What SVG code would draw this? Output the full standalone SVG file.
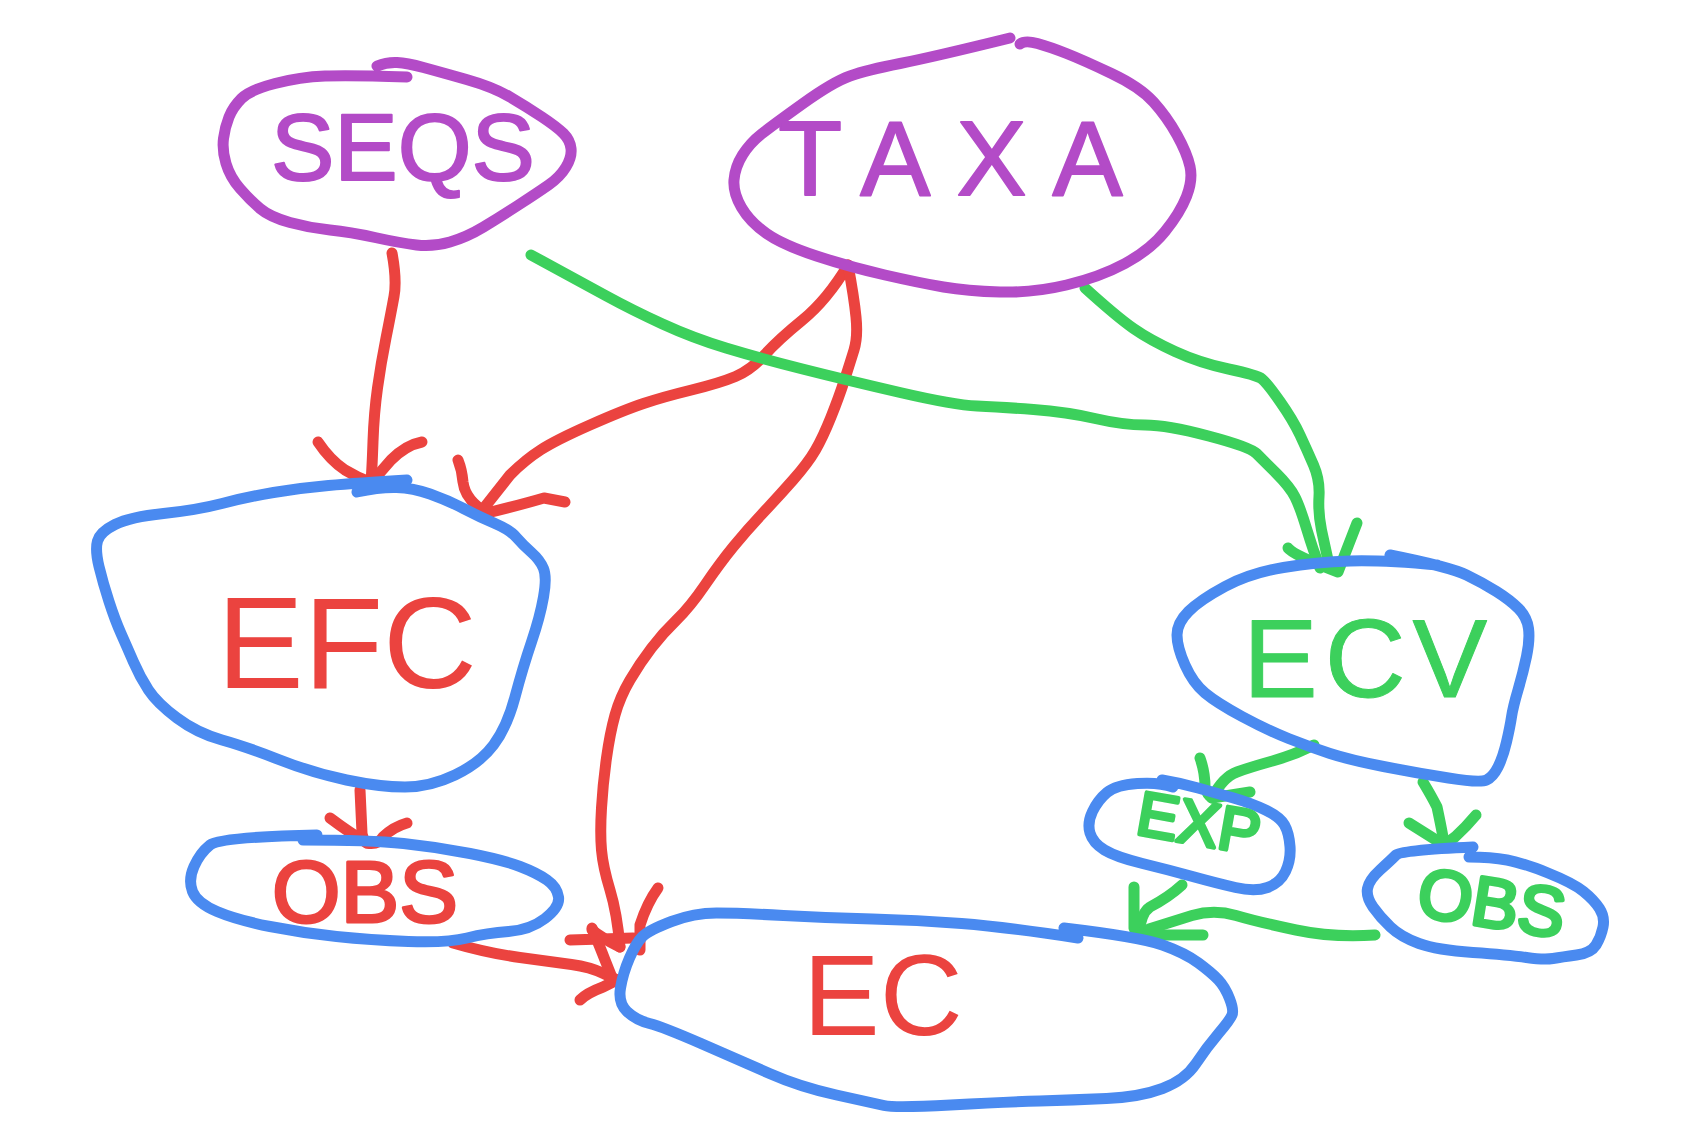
<svg xmlns="http://www.w3.org/2000/svg" width="1700" height="1144" viewBox="0 0 1700 1144">
<style>
  .s{fill:none;stroke-width:11;stroke-linecap:round;stroke-linejoin:round}
  .pu{stroke:#B34BC7}
  .bl{stroke:#4A8AF0}
  .rd{stroke:#EB433F}
  .gr{stroke:#3CD05C}
  .t{font-family:"Liberation Sans","DejaVu Sans",sans-serif;font-weight:normal;stroke-linejoin:round;stroke-linecap:round}
  .tp{fill:#B34BC7;stroke:#B34BC7}
  .tr{fill:#EB433F;stroke:#EB433F}
  .tg{fill:#3CD05C;stroke:#3CD05C}
</style>
<rect width="1700" height="1144" fill="#ffffff"/>

<g id="connectors">
  <!-- SEQS -> EFC -->
  <path class="s rd" d="M392,253 Q397,280 394,296.5 Q391,313 386,338 Q381,363 377.5,388 Q374,413 373,441.5 Q372,470 371,482"/>
  <path class="s rd" d="M318,442 Q330,460 345,470 Q358,478 372,483 M422,442 Q406,445 391,460 Q380,472 372,483"/>
  <!-- TAXA -> EFC -->
  <path class="s rd" d="M848,265 Q827,300 802.5,320 Q778,340 764.5,355 Q751,370 735.5,376.5 Q720,383 691.5,390 Q663,397 643.5,403.5 Q624,410 590,425 Q556,440 540.5,450 Q525,460 510,475 L484,508"/>
  <path class="s rd" d="M458,460 Q462,470 463,482 Q465,500 487,513 Q520,505 544,498 L565,502"/>
  <!-- TAXA -> EC -->
  <path class="s rd" d="M848,265 Q854,297 856,317 Q858,337 854,350 Q850,363 844.5,380 Q839,397 831,417 Q823,437 815.5,450 Q808,463 793,480 Q778,497 762.5,513.5 Q747,530 733.5,546.5 Q720,563 705,585 Q690,607 676.5,620 Q663,633 651.5,648 Q640,663 630,680 Q620,697 615,715 Q610,733 606.5,758 Q603,783 601.5,808 Q600,833 601.5,850 Q603,867 610,890 Q617,913 620,947"/>
  <path class="s rd" d="M592,930 Q600,937 620,947 M658,888 Q647,903 640,925 L640,950 M570,940 L633,938"/>
  <!-- OBS -> EC -->
  <path class="s rd" d="M453,943 Q487,953 520,957.5 Q553,962 571.5,964.5 Q590,967 603.5,973.5 L617,980"/>
  <path class="s rd" d="M580,1000 Q587,993 603,987 L617,980 M592,928 Q600,947 605,960 L613,980"/>
  <!-- EFC -> OBS -->
  <path class="s rd" d="M360,790 L362,833 Q362,838 367,843"/>
  <path class="s rd" d="M330,818 Q350,833 367,843 Q378,845 383,837 Q393,827 407,823"/>
  <!-- SEQS -> ECV -->
  <path class="s gr" d="M531,255 Q579,281 605.5,295.5 Q632,310 662.5,324 Q693,338 726,348 Q759,358 802.5,369 Q846,380 900,392.5 Q954,405 977,406 Q1000,407 1033.5,409.5 Q1067,412 1095,418.5 Q1123,425 1145,425 Q1167,425 1208.5,436 Q1250,447 1256.5,453.5 Q1263,460 1276.5,473.5 Q1290,487 1295,497 Q1300,507 1306.5,528.5 Q1313,550 1320,568"/>
  <!-- TAXA -> ECV -->
  <path class="s gr" d="M1085,288 Q1117,317 1133.5,328.5 Q1150,340 1175,351.5 Q1200,363 1228.5,369 Q1257,375 1262,379 Q1267,383 1280,401.5 Q1293,420 1300,435 Q1307,450 1313.5,465 Q1320,480 1319,496.5 Q1318,513 1321.5,530 L1328,560"/>
  <path class="s gr" d="M1288,548 Q1293,555 1338,572 L1357,523"/>
  <!-- ECV -> EXP -->
  <path class="s gr" d="M1314,745 Q1294,755 1272.5,761 Q1251,767 1237,772 Q1223,777 1212,798"/>
  <path class="s gr" d="M1200,758 Q1205,772 1205,787 Q1207,795 1212,798 L1250,792"/>
  <!-- ECV -> OBS -->
  <path class="s gr" d="M1423,782 Q1432,797 1437,807 Q1444,840 1444,845"/>
  <path class="s gr" d="M1409,823 L1444,845 M1476,815 Q1466,827 1455,837 L1444,845"/>
  <!-- EXP -> EC -->
  <path class="s gr" d="M1182,885 Q1169,897 1150,907 Q1141,913 1139,933"/>
  <!-- OBS -> EC -->
  <path class="s gr" d="M1375,935 Q1334,938 1296,930 Q1258,922 1236,915.5 Q1214,909 1192,915.5 Q1171,922 1149,929"/>
  <path class="s gr" d="M1134,887 L1134,928 Q1136,935 1141,935 L1203,935"/>
</g>

<g id="node-seqs">
  <path class="s pu" d="M407,77 Q350,75 325,76 Q300,77 275,83.5 Q250,90 241.5,98.5 Q233,107 229,117 Q225,127 223.5,138.5 Q222,150 226,163.5 Q230,177 240,188.5 Q250,200 260,208.5 Q270,217 290,222.5 Q310,228 330,230 Q350,232 375,237.5 Q400,243 416.5,245 Q433,247 450,242 Q467,237 483.5,227 Q500,217 518.5,205 Q537,193 548.5,185 Q560,177 566,167 Q572,157 571,148.5 Q570,140 563.5,133.5 Q557,127 542,117 Q527,107 510,97 Q493,87 466.5,79.5 Q440,72 423.5,67.5 Q407,63 397,62.5 Q387,62 377,66"/>
  <text class="t tp" x="403" y="180" font-size="95" stroke-width="2" text-anchor="middle">SEQS</text>
</g>

<g id="node-taxa">
  <path class="s pu" d="M1010,38 Q933,57 900,63.5 Q867,70 850,76 Q833,82 803,103.5 Q773,125 761.5,134 Q750,143 742.5,155 Q735,167 734,180 Q733,193 741.5,207.5 Q750,222 766.5,233.5 Q783,245 816.5,256 Q850,267 885,275 Q920,283 943.5,287 Q967,291 1000,292 Q1033,293 1066.5,285 Q1100,277 1125,263.5 Q1150,250 1165,231.5 Q1180,213 1186.5,196.5 Q1193,180 1190,166.5 Q1187,153 1177,135 Q1167,117 1153.5,102 Q1140,87 1111.5,73.5 Q1083,60 1066.5,53.5 Q1050,47 1037.5,43.5 Q1025,40 1020,44"/>
  <text class="t tp" x="778" y="195" font-size="105" stroke-width="2" letter-spacing="26">TAXA</text>
</g>

<g id="node-efc">
  <path class="s bl" d="M407,480 Q357,483 328.5,485.5 Q300,488 273.5,492.5 Q247,497 222,503.5 Q197,510 163.5,513.5 Q130,517 115,524.5 Q100,532 97.5,541 Q95,550 99,566.5 Q103,583 109,601.5 Q115,620 121,633.5 Q127,647 133.5,662 Q140,677 148.5,690 Q157,703 177,718 Q197,733 222,740 Q247,747 280,760 Q313,773 346.5,780 Q380,787 405,787 Q430,787 455,775 Q480,763 493.5,745 Q507,727 515,697 Q523,667 531.5,642 Q540,617 543.5,597 Q547,577 543.5,568.5 Q540,560 531.5,552.5 Q523,545 516.5,537.5 Q510,530 495,523.5 Q480,517 463.5,508.5 Q447,500 430,494 Q413,488 396.5,487.5 Q380,487 357,492"/>
  <text class="t tr" x="217" y="688" font-size="130" stroke-width="0">EFC</text>
</g>

<g id="node-obs-left">
  <path class="s bl" d="M317,835 Q220,837 210,845 Q200,853 194,866.5 Q188,880 192.5,891.5 Q197,903 217,911.5 Q237,920 270,926.5 Q303,933 336.5,936.5 Q370,940 408.5,941.5 Q447,943 467,938 Q487,933 508.5,931.5 Q530,930 545,918.5 Q560,907 558.5,897 Q557,887 547,880 Q537,873 520,866.5 Q503,860 470,853.5 Q437,847 403.5,843.5 Q370,840 303,840"/>
  <text class="t tr" x="272" y="922" font-size="88" stroke-width="3">OBS</text>
</g>

<g id="node-ec">
  <path class="s bl" d="M1078,938 Q1006,927 961.5,923.5 Q917,920 872.5,919 Q828,918 783.5,915.5 Q739,913 716.5,913 Q694,913 671.5,921.5 Q649,930 642.5,936.5 Q636,943 629.5,958 Q623,973 620.5,988 Q618,1003 627,1011.5 Q636,1020 649.5,1023.5 Q663,1027 701,1043.5 Q739,1060 769.5,1073.5 Q800,1087 836.5,1095 Q873,1103 884,1105.5 Q895,1108 950.5,1105 Q1006,1102 1039.5,1101 Q1073,1100 1106.5,1098.5 Q1140,1097 1162.5,1088.5 Q1185,1080 1196,1063.5 Q1207,1047 1218.5,1033.5 Q1230,1020 1232,1015 Q1234,1010 1229.5,998.5 Q1225,987 1218.5,980 Q1212,973 1198.5,963 Q1185,953 1162.5,945 Q1140,937 1064,928"/>
  <text class="t tr" x="803" y="1035" font-size="115" stroke-width="0">EC</text>
</g>

<g id="node-ecv">
  <path class="s bl" d="M1437,565 Q1383,560 1350,561 Q1317,562 1283.5,567.5 Q1250,573 1225,586.5 Q1200,600 1188.5,611.5 Q1177,623 1177,635 Q1177,647 1185,665 Q1193,683 1205,693 Q1217,703 1242,716.5 Q1267,730 1288.5,738.5 Q1310,747 1330,753.5 Q1350,760 1383.5,766.5 Q1417,773 1448.5,778 Q1480,783 1486.5,780 Q1493,777 1498,767 Q1503,757 1506.5,742 Q1510,727 1511.5,717 Q1513,707 1518,690 Q1523,673 1526.5,656.5 Q1530,640 1528.5,628.5 Q1527,617 1518.5,608.5 Q1510,600 1496.5,591.5 Q1483,583 1466.5,575 Q1450,567 1390,555"/>
  <text class="t tg" x="1243" y="697" font-size="112" stroke-width="1" letter-spacing="7">ECV</text>
</g>

<g id="node-exp">
  <path class="s bl" d="M1173,787 Q1159,782 1137.5,783.5 Q1116,785 1107,792.5 Q1098,800 1092.5,811.5 Q1087,823 1090,833 Q1093,843 1104.5,850 Q1116,857 1142.5,863.5 Q1169,870 1192.5,876.5 Q1216,883 1235.5,887.5 Q1255,892 1267.5,887.5 Q1280,883 1285.5,871.5 Q1291,860 1290,846.5 Q1289,833 1284.5,825 Q1280,817 1265.5,810 Q1251,803 1233.5,798 Q1216,793 1198,788 Q1180,783 1162,780"/>
  <text class="t tg" x="1134" y="845" font-size="62" stroke-width="4" transform="rotate(10 1200 840)">EXP</text>
</g>

<g id="node-obs-right">
  <path class="s bl" d="M1473,847 Q1401,850 1396,855 Q1391,860 1380,870 Q1369,880 1367.5,888.5 Q1366,897 1373,907 Q1380,917 1390.5,927 Q1401,937 1419,943.5 Q1437,950 1473,952.5 Q1509,955 1526.5,957.5 Q1544,960 1553,958.5 Q1562,957 1576.5,955 Q1591,953 1596,945 Q1601,937 1603,927 Q1605,917 1599.5,908.5 Q1594,900 1583.5,891.5 Q1573,883 1548,873 Q1523,863 1507,860 Q1491,857 1469,857"/>
  <text class="t tg" x="1416" y="927" font-size="70" stroke-width="4" transform="rotate(9 1490 915)">OBS</text>
</g>
</svg>
